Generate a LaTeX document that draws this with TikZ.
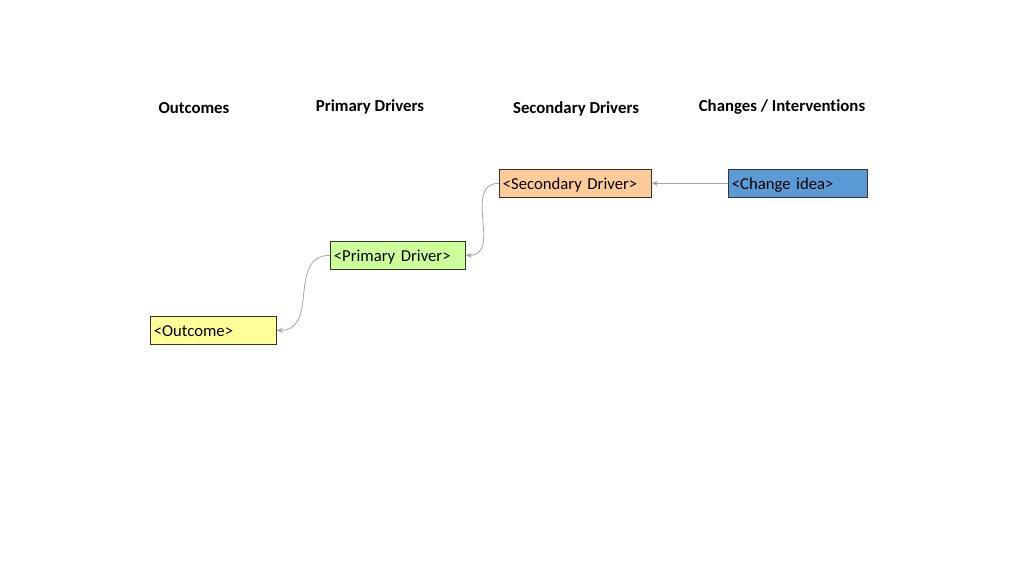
\documentclass[tikz,border=0pt]{standalone}
\usepackage{fontspec}
\setmainfont[Ligatures=NoCommon]{Carlito}
\usetikzlibrary{arrows.meta}
\definecolor{outc}{HTML}{FFFF99}
\definecolor{prim}{HTML}{CCFF99}
\definecolor{seco}{HTML}{FFCC99}
\definecolor{chng}{HTML}{5B9BD5}
\definecolor{conn}{HTML}{A6A6A6}
\tikzset{
  box/.style={draw=black!80, line width=0.7pt, anchor=north west, inner xsep=3.5pt, inner ysep=0pt,
    font=\fontsize{16.7}{18}\selectfont, align=left, text height=13pt, text depth=1pt, minimum height=28pt},
  head/.style={font=\bfseries\fontsize{16.8}{18}\selectfont},
  link/.style={draw=conn, line width=0.8pt, -{Stealth[length=6pt,width=5pt]}},
}
\begin{document}
\begin{tikzpicture}[x=1pt,y=-1pt]
\useasboundingbox (0,0) rectangle (1024,576);
\node[head] (h1) at (194,108) {Outcomes};
\node[head] (h2) at (370,107) {Primary Drivers};
\node[head] (h3) at (576,109) {Secondary Drivers};
\node[head] (h4) at (782,107) {Changes / Interventions};
\node[box, fill=outc, minimum width=126pt, text width=119pt] (o) at (150,316) {<Outcome>};
\node[box, fill=prim, minimum width=135pt, text width=128pt] (p) at (330,241) {<Primary Driver>};
\node[box, fill=seco, minimum width=152pt, text width=145pt] (s) at (499,169) {<Secondary Driver>};
\node[box, fill=chng, minimum width=139pt, text width=132pt] (c) at (728,169) {<Change idea>};
\draw[link] (c.west) -- (s.east);
\draw[link] (s.west) to[out=180, in=0, looseness=1.2] (p.east);
\draw[link] (p.west) to[out=180, in=0, looseness=1.2] (o.east);
\end{tikzpicture}
\end{document}
